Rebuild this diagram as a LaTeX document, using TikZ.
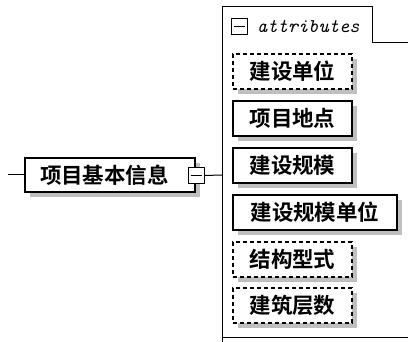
\documentclass[tikz,border=0pt]{standalone}
\usepackage{fontspec}
\newfontfamily\cjk{Noto Sans CJK SC Bold}
\usetikzlibrary{shadows}
\tikzset{
  elem/.style={draw=black, line width=1.4pt, fill=white, inner sep=0pt,
    minimum height=35pt, font=\cjk\fontsize{21.5}{23}\selectfont,
    drop shadow={shadow xshift=5pt, shadow yshift=-5pt, fill=black!25, opacity=1}},
  optelem/.style={elem, line width=1.6pt, dash pattern=on 4pt off 3pt},
  wire/.style={draw=black, line width=1pt},
  togglebox/.style={draw=black, line width=1pt, fill=white, minimum size=16pt, inner sep=0pt},
}
\begin{document}
\begin{tikzpicture}[x=1pt,y=-1pt]
\useasboundingbox (0,0) rectangle (408,342);
% attributes container
\draw[wire] (222,345) -- (222,7) -- (372,7) -- (372,43) -- (412,43);
\draw[wire] (222,338) -- (412,338);
\node[togglebox] (atog) at (239.5,26.5) {};
\draw[line width=1pt] ([xshift=3pt]atog.west) -- ([xshift=-3pt]atog.east);
\node[anchor=west, font=\ttfamily\itshape\fontsize{19.5}{20}\selectfont, inner sep=0pt] (alabel) at (257,27) {attributes};
% main element
\node[elem, minimum width=170pt, minimum height=34pt] (main) at (110,175) {\makebox[168pt][l]{\hspace{14pt}项目基本信息}};
\node[togglebox] (mtog) at (196,175.5) {};
\draw[line width=1pt] ([xshift=3pt]mtog.west) -- ([xshift=-3pt]mtog.east);
\coordinate (lin) at (8,175);
\coordinate (vbar) at (222,175);
\draw[wire] (lin) -- (main.west);
\draw[wire] (mtog.east) -- (vbar);
% children
\node[optelem, minimum width=119pt] (c1) at (292.5,71.5) {建设单位};
\node[elem, minimum width=119pt] (c2) at (292.5,118.5) {项目地点};
\node[elem, minimum width=119pt] (c3) at (292.5,165.5) {建设规模};
\node[elem, minimum width=164pt] (c4) at (315,212.5) {建设规模单位};
\node[optelem, minimum width=119pt] (c5) at (292.5,259.5) {结构型式};
\node[optelem, minimum width=119pt] (c6) at (292.5,305.5) {建筑层数};
\end{tikzpicture}
\end{document}
